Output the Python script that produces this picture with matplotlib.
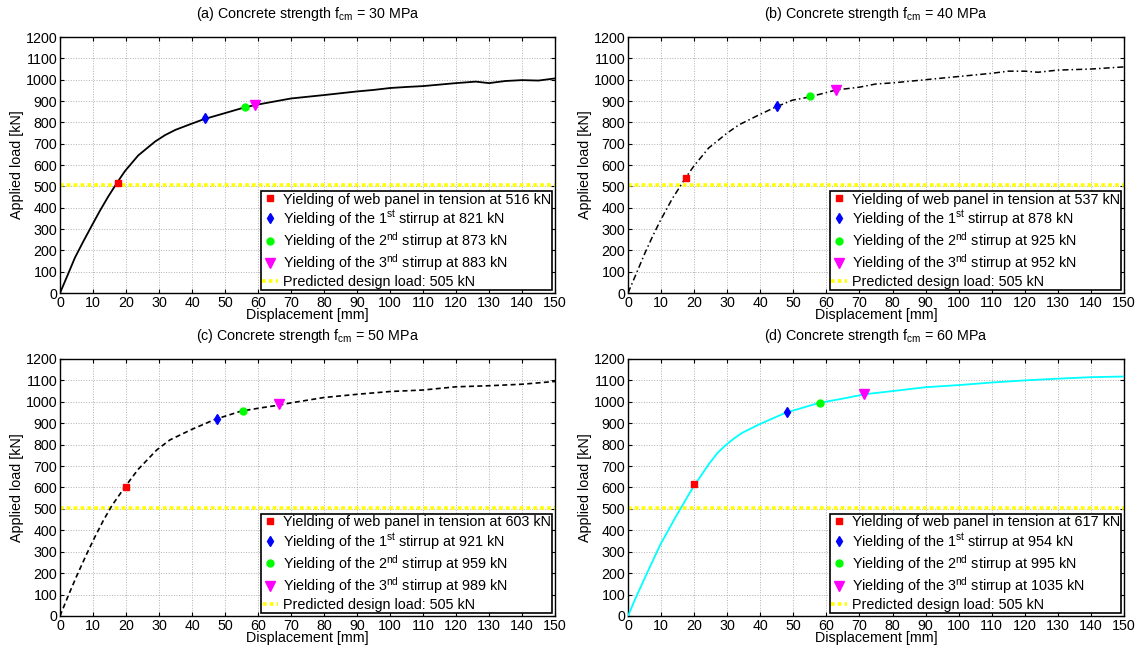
import numpy as np
import matplotlib
matplotlib.use('Agg')
import matplotlib.pyplot as plt

plt.rcParams['font.family'] = ['Liberation Sans', 'DejaVu Sans']
plt.rcParams['mathtext.fontset'] = 'custom'
plt.rcParams['mathtext.rm'] = 'Liberation Sans'
plt.rcParams['mathtext.it'] = 'Liberation Sans'

# load-displacement curves
disp_a = [0, 2.2, 4.5, 7, 9.6, 12, 14.6, 17.2, 19.7, 23.7, 28.8, 31.8, 35, 38.9, 43.6, 49, 55, 59,
          70, 80, 90, 95, 100, 105, 110, 120, 126, 130, 135, 140, 145, 150]
load_a = [0, 80, 165, 240, 315, 383, 452, 515, 572, 645, 710, 740, 765, 788, 815, 839, 866, 881,
          912, 928, 945, 952, 961, 966, 970, 984, 991, 984, 994, 998, 996, 1006]

disp_b = [0, 2.2, 5.2, 7.5, 9.8, 13.3, 17.2, 19.9, 24.4, 30, 33.5, 39.6, 44.4, 49.7, 54.2, 58.8, 63,
          70, 75, 80, 90, 100, 110, 115, 120, 124, 130, 140, 150]
load_b = [0, 80, 190, 268, 340, 440, 535, 595, 680, 750, 788, 835, 870, 904, 917, 935, 952,
          965, 980, 985, 1000, 1015, 1030, 1040, 1040, 1035, 1045, 1050, 1060]

disp_c = [0, 2.5, 5, 8.1, 10.6, 13.1, 15.7, 19.7, 23.7, 29.3, 33.3, 39.9, 47, 55, 61, 66.2,
          70, 80, 90, 100, 110, 120, 130, 140, 150]
load_c = [0, 95, 185, 290, 370, 445, 515, 603, 685, 775, 822, 871, 918, 957, 972, 984,
          995, 1020, 1035, 1048, 1055, 1070, 1075, 1082, 1095]

disp_d = [0, 2.2, 5.3, 9.8, 14.3, 18.4, 19.9, 24.4, 27, 29.5, 32, 34.5, 39.6, 47.7, 57.8, 65, 71.5,
          80, 90, 100, 110, 120, 130, 140, 150]
load_d = [0, 80, 185, 334, 459, 568, 606, 708, 760, 797, 828, 855, 894, 949, 995, 1015, 1035,
          1050, 1068, 1078, 1090, 1100, 1108, 1115, 1118]

# yielding events: web panel, 1st, 2nd, 3rd stirrup
yield_disp_a = [17.5, 44, 56, 59]
yield_load_a = [516, 821, 873, 883]
yield_disp_b = [17.5, 45, 55, 63]
yield_load_b = [537, 878, 925, 952]
yield_disp_c = [20, 47.5, 55.5, 66.5]
yield_load_c = [603, 921, 959, 989]
yield_disp_d = [20, 48, 58, 71.5]
yield_load_d = [617, 954, 995, 1035]

design_load = 505
fcm = [30, 40, 50, 60]
panel_tags = ['(a)', '(b)', '(c)', '(d)']

panels = [
    (disp_a, load_a, yield_disp_a, yield_load_a, dict(color='black', linestyle='-', linewidth=1.3)),
    (disp_b, load_b, yield_disp_b, yield_load_b, dict(color='black', linestyle=(0, (4, 2, 1, 2)), linewidth=1.1)),
    (disp_c, load_c, yield_disp_c, yield_load_c, dict(color='black', linestyle=(0, (3, 2)), linewidth=1.2)),
    (disp_d, load_d, yield_disp_d, yield_load_d, dict(color='cyan', linestyle='-', linewidth=1.3)),
]

rects = [
    [0.0526, 0.5499, 0.4338, 0.3932],
    [0.5504, 0.5499, 0.4347, 0.3932],
    [0.0526, 0.0538, 0.4338, 0.3948],
    [0.5504, 0.0538, 0.4347, 0.3948],
]

marker_styles = [('s', 'red', 4.5), ('d', 'blue', 5.5), ('o', 'lime', 5), ('v', 'magenta', 6.5)]

fig = plt.figure(figsize=(11.41, 6.51), dpi=100)

for i, (dx, ld, ydx, yld, style) in enumerate(panels):
    ax = fig.add_axes(rects[i])
    ax.plot(dx, ld, **style, zorder=3)
    labels = [
        'Yielding of web panel in tension at %d kN' % yld[0],
        r'Yielding of the 1$^{\mathrm{st}}$ stirrup at %d kN' % yld[1],
        r'Yielding of the 2$^{\mathrm{nd}}$ stirrup at %d kN' % yld[2],
        r'Yielding of the 3$^{\mathrm{nd}}$ stirrup at %d kN' % yld[3],
    ]
    for (m, c, s), x, y, lab in zip(marker_styles, ydx, yld, labels):
        ax.plot([x], [y], linestyle='none', marker=m, color=c, markersize=s, label=lab, zorder=4)
    ax.axhline(design_load, color='yellow', linestyle=(0, (1, 0.9)), linewidth=2.6,
               label='Predicted design load: %d kN' % design_load, zorder=2)

    ax.set_xlim(0, 150)
    ax.set_ylim(0, 1200)
    ax.set_xticks(np.arange(0, 151, 10))
    ax.set_yticks(np.arange(0, 1201, 100))
    ax.grid(True, color='#b0b0b0', linestyle=':', linewidth=0.7)
    ax.tick_params(direction='in', top=True, right=True, labelsize=10.3, length=3, pad=2)
    for sp in ax.spines.values():
        sp.set_linewidth(1.0)
    ax.set_xlabel('Displacement [mm]', fontsize=10.3, labelpad=-1)
    ax.set_ylabel('Applied load [kN]', fontsize=10.3, labelpad=1)
    ax.set_title(r'%s Concrete strength f$_{\mathrm{cm}}$ = %d MPa' % (panel_tags[i], fcm[i]),
                 fontsize=10.3, pad=14)
    leg = ax.legend(loc='lower right', fontsize=10.4, fancybox=False, framealpha=1,
                    edgecolor='black', handlelength=1.1, handletextpad=0.3,
                    borderpad=0.1, labelspacing=0.1, borderaxespad=0.2)
    leg.get_frame().set_linewidth(1.2)

fig.savefig('out.png', dpi=100)
